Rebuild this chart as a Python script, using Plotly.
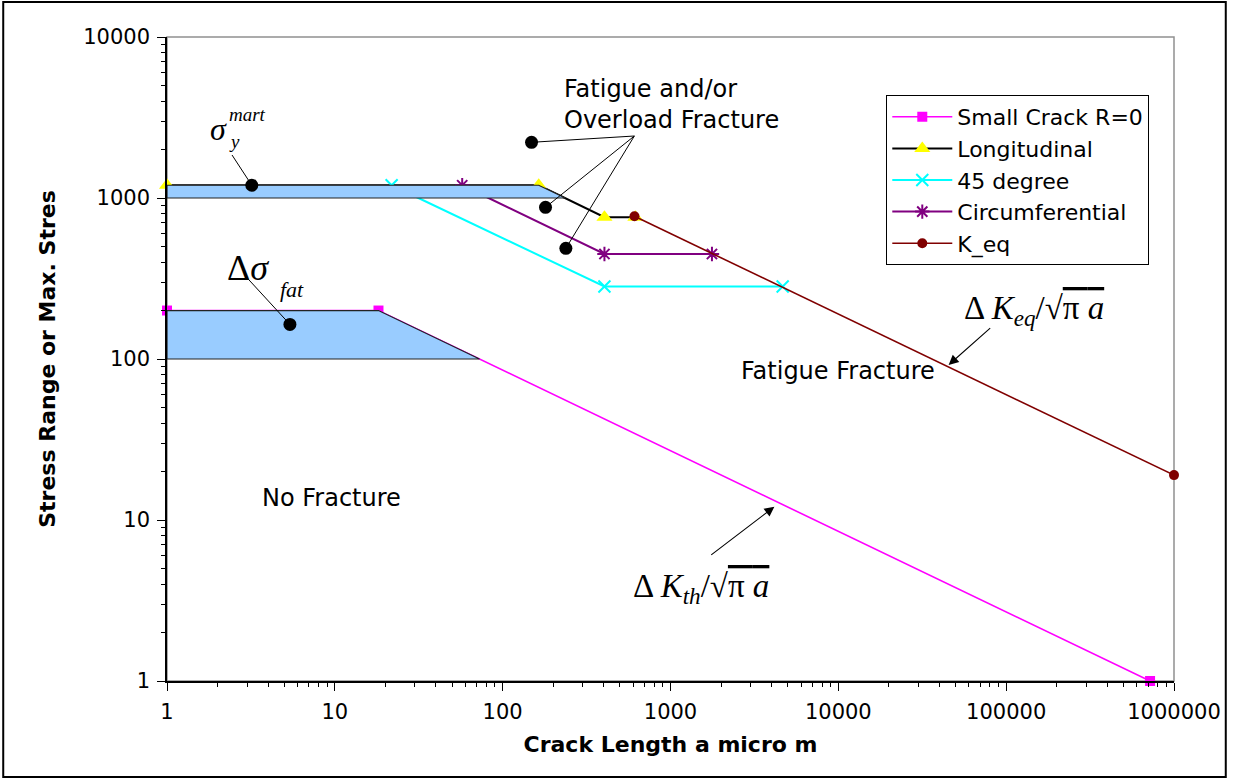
import math
import plotly.graph_objects as go

# ---------------- data ----------------
small_crack_x = [1, 18.2, 720000]
small_crack_y = [200, 200, 1]

longitudinal_x = [1, 164, 404, 617]
longitudinal_y = [1200, 1200, 760, 760]

deg45_x = [21.8, 404, 4660]
deg45_y = [1200, 282, 282]

circ_x = [57.4, 404, 1766]
circ_y = [1200, 449, 449]

keq_x = [610, 1000000]
keq_y = [770, 19]

# shaded regions (yield band and fatigue-limit band)
yield_band_x = [1, 1, 164, 236, 1]
yield_band_y = [1000, 1200, 1200, 1000, 1000]
fat_band_x = [1, 1, 18.2, 72.8, 1]
fat_band_y = [100, 200, 200, 100, 100]

# black callout dots and their leader lines
dot_x = [3.2, 5.4, 148.6, 180, 238]
dot_y = [1200, 164, 2218, 875, 487]
leader_end_x = [2.44, 3.01, 609, 609, 609]
leader_end_y = [1850, 318, 2427, 2427, 2427]

# arrows (tip on curve, tail near formula)
arrow_th_tip = (4160, 12.1)
arrow_th_tail = (1713, 5.97)
arrow_eq_tip = (45400, 91.8)
arrow_eq_tail = (82000, 158.6)

x_tick_vals = [1, 10, 100, 1000, 10000, 100000, 1000000]
x_tick_text = ["1", "10", "100", "1000", "10000", "100000", "1000000"]
y_tick_vals = [1, 10, 100, 1000, 10000]
y_tick_text = ["1", "10", "100", "1000", "10000"]

series_names = ["Small Crack R=0", "Longitudinal", "45 degree", "Circumferential", "K_eq"]

# ---------------- layout geometry ----------------
W, H = 1233, 780
PL, PR, PT, PB = 166.5, 1178, 37, 681


def P(px, py):
    return (px - PL) / (PR - PL), (PB - py) / (PB - PT)


SANS = "DejaVu Sans"
SERIF = "Liberation Serif"

fig = go.Figure()

fig.add_trace(go.Scatter(x=small_crack_x, y=small_crack_y, name=series_names[0], mode="lines+markers",
                         line=dict(color="#FF00FF", width=1.6),
                         marker=dict(symbol="square", size=10, color="#FF00FF"),
                         cliponaxis=False, legendgroup="a"))
fig.add_trace(go.Scatter(x=longitudinal_x, y=longitudinal_y, name=series_names[1], mode="lines+markers",
                         line=dict(color="black", width=2),
                         marker=dict(symbol="triangle-up", size=14, color="#FFFF00"),
                         cliponaxis=False, legendgroup="b"))
fig.add_trace(go.Scatter(x=deg45_x, y=deg45_y, name=series_names[2], mode="lines+markers",
                         line=dict(color="#00FFFF", width=2),
                         marker=dict(symbol="x-thin", size=12, line=dict(color="#00FFFF", width=2)),
                         cliponaxis=False, legendgroup="c"))
fig.add_trace(go.Scatter(x=circ_x, y=circ_y, name=series_names[3], mode="lines+markers",
                         line=dict(color="#800080", width=2),
                         marker=dict(symbol="asterisk-open", size=12, line=dict(color="#800080", width=2)),
                         cliponaxis=False, legendgroup="d"))
fig.add_trace(go.Scatter(x=keq_x, y=keq_y, name=series_names[4], mode="lines+markers",
                         line=dict(color="#800000", width=1.6),
                         marker=dict(symbol="circle", size=10, color="#800000"),
                         cliponaxis=False, legendgroup="e"))

# shaded bands drawn on top of the lines (as in the original drawing)
for bx, by in [(yield_band_x, yield_band_y), (fat_band_x, fat_band_y)]:
    fig.add_trace(go.Scatter(x=bx, y=by, mode="lines", fill="toself", fillcolor="#99CCFF",
                             line=dict(color="#222222", width=1.2), showlegend=False,
                             hoverinfo="skip", cliponaxis=False))

# leader lines
for i in range(len(dot_x)):
    fig.add_trace(go.Scatter(x=[dot_x[i], leader_end_x[i]], y=[dot_y[i], leader_end_y[i]], mode="lines",
                             line=dict(color="black", width=1), showlegend=False, hoverinfo="skip",
                             cliponaxis=False))
# black dots
fig.add_trace(go.Scatter(x=dot_x, y=dot_y, mode="markers", marker=dict(color="black", size=13),
                         showlegend=False, hoverinfo="skip", cliponaxis=False))

annotations = []


def txt(px, py, text, size, family=SANS, xanchor="center", yanchor="middle", align="center"):
    x, y = P(px, py)
    annotations.append(dict(x=x, y=y, xref="paper", yref="paper", text=text, showarrow=False,
                            xanchor=xanchor, yanchor=yanchor, align=align,
                            font=dict(family=family, size=size, color="black")))


txt(563, 105, "Fatigue and/or<br>Overload Fracture", 24, xanchor="left", align="left")
txt(841, 371, "Fatigue Fracture", 24)
txt(332, 498, "No Fracture", 24)

OV = "<span style='text-decoration:overline'>"
txt(965, 310, "Δ <i>K</i><sub><i>eq</i></sub>/√" + OV + "π <i>a</i></span>", 33, family=SERIF, xanchor="left")
txt(633, 588, "Δ <i>K</i><sub><i>th</i></sub>/√" + OV + "π <i>a</i></span>", 33, family=SERIF, xanchor="left")

# sigma_y^mart
txt(218, 129, "<i>σ</i>", 32, family=SERIF)
txt(247, 115, "<i>mart</i>", 19, family=SERIF)
txt(234, 141, "<i>y</i>", 19, family=SERIF)
# delta sigma_fat
txt(248, 268, "Δ<i>σ</i>", 36, family=SERIF)
txt(292, 289, "<i>fat</i>", 22, family=SERIF)

for tip, tail in [(arrow_th_tip, arrow_th_tail), (arrow_eq_tip, arrow_eq_tail)]:
    annotations.append(dict(x=math.log10(tip[0]), y=math.log10(tip[1]), xref="x", yref="y",
                            ax=math.log10(tail[0]), ay=math.log10(tail[1]), axref="x", ayref="y",
                            text="", showarrow=True, arrowhead=2, arrowsize=1.8, arrowwidth=1.1,
                            arrowcolor="black"))

x0o, y1o = P(2, 2)
x1o, y0o = P(1230, 777)
shapes = [
    dict(type="rect", xref="paper", yref="paper", x0=0, x1=1, y0=0, y1=1,
         line=dict(color="#909090", width=1.5), layer="below"),
    dict(type="rect", xref="paper", yref="paper", x0=x0o, x1=x1o, y0=y0o, y1=y1o,
         line=dict(color="black", width=2), layer="above"),
]

minor_x = [m * 10 ** e for e in range(6) for m in range(2, 10)]
minor_y = [m * 10 ** e for e in range(4) for m in range(2, 10)]

axis_common = dict(type="log", showgrid=False, zeroline=False, showline=True, linecolor="black",
                   linewidth=1.5, ticks="outside", ticklen=8, tickwidth=1, tickcolor="black",
                   ticklabelstandoff=3,
                   tickfont=dict(family=SANS, size=21, color="black"))

lx, ly = P(889, 95)
fig.update_layout(
    width=W, height=H, autosize=False,
    margin=dict(l=PL, r=W - PR, t=PT, b=H - PB),
    paper_bgcolor="white", plot_bgcolor="white",
    xaxis=dict(range=[0, 6], tickvals=x_tick_vals, ticktext=x_tick_text,
               minor=dict(tickvals=minor_x, ticks="outside", ticklen=4, tickcolor="black"),
               title=dict(text="<b>Crack Length a micro m</b>", standoff=14,
                          font=dict(family=SANS, size=22, color="black")),
               **axis_common),
    yaxis=dict(range=[0, 4], tickvals=y_tick_vals, ticktext=y_tick_text,
               minor=dict(tickvals=minor_y, ticks="outside", ticklen=4, tickcolor="black"),
               title=dict(text="<b>Stress Range or Max. Stres</b>", standoff=22,
                          font=dict(family=SANS, size=22, color="black")),
               **axis_common),
    legend=dict(x=lx, y=ly, xanchor="left", yanchor="top", bgcolor="white",
                bordercolor="black", borderwidth=1, tracegroupgap=0, itemwidth=60,
                font=dict(family=SANS, size=22, color="black")),
    annotations=annotations,
    shapes=shapes,
    showlegend=True,
)

fig.write_html("out.html", config={"displayModeBar": False},
               post_script="document.body.style.margin='0';")
